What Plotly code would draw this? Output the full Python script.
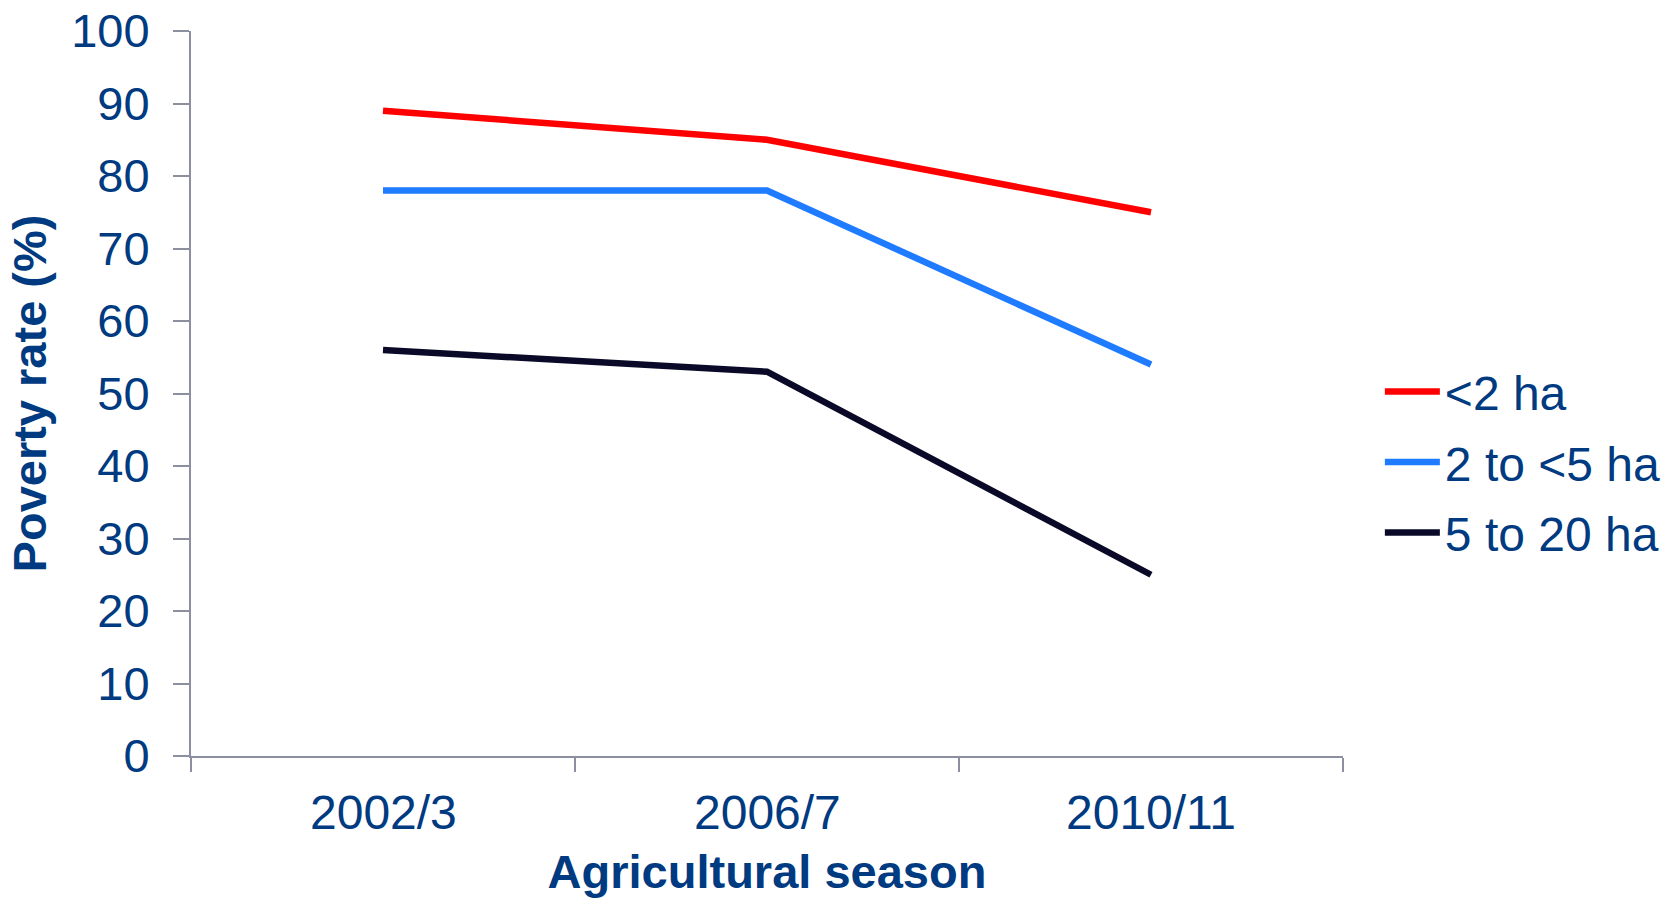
import plotly.graph_objects as go

# Agricultural seasons and poverty rate (%) by farm size
seasons = ["2002/3", "2006/7", "2010/11"]
under_2ha = [89, 85, 75]
from_2_to_5ha = [78, 78, 54]
from_5_to_20ha = [56, 53, 25]

series_names = ["<2 ha", "2 to <5 ha", "5 to 20 ha"]
series_colors = ["#FF0000", "#1F7BFF", "#0A0A28"]

TEXT = "#003A80"
AXIS = "#8C8FA0"
FONT = "Liberation Sans, Arial, sans-serif"

fig = go.Figure()
for name, vals, col in zip(series_names, [under_2ha, from_2_to_5ha, from_5_to_20ha], series_colors):
    fig.add_trace(go.Scatter(
        x=seasons, y=vals, name=name, mode="lines", legendgroup=name,
        line=dict(color=col, width=6.5),
    ))

fig.update_layout(
    width=1673, height=898,
    margin=dict(l=191, r=330, t=31, b=142, autoexpand=False),
    paper_bgcolor="white", plot_bgcolor="white",
    font=dict(family=FONT, color=TEXT, size=46),
    showlegend=True,
    legend=dict(
        x=1.032, y=0.405, xanchor="left", yanchor="middle",
        font=dict(size=48, color=TEXT),
        itemwidth=55, tracegroupgap=5,
        bgcolor="rgba(0,0,0,0)",
    ),
    xaxis=dict(
        type="category", range=[-0.5, 2.5],
        showline=True, linecolor=AXIS, linewidth=2,
        ticks="outside", ticklen=14, tickcolor=AXIS, tickwidth=2,
        tickmode="array", tickvals=[-0.5, 0.5, 1.5, 2.5], ticktext=["", "", "", ""],
        showgrid=False, zeroline=False,
        title=dict(text="<b>Agricultural season</b>", font=dict(size=47, color=TEXT), standoff=79),
        automargin=False,
    ),
    yaxis=dict(
        range=[0, 100], dtick=10,
        showline=True, linecolor=AXIS, linewidth=2,
        ticks="outside", ticklen=16, tickcolor=AXIS, tickwidth=2,
        showgrid=False, zeroline=False,
        tickfont=dict(size=47, color=TEXT), ticklabelstandoff=14,
        title=dict(text="<b>Poverty rate (%)</b>", font=dict(size=47, color=TEXT), standoff=10),
        automargin=False,
    ),
)

# Category labels sit centred under each season between the boundary ticks
for s in seasons:
    fig.add_annotation(
        x=s, y=0, xref="x", yref="paper", yanchor="top", yshift=-28,
        text=s, showarrow=False, font=dict(size=48, color=TEXT),
    )

fig.write_html("out.html")
